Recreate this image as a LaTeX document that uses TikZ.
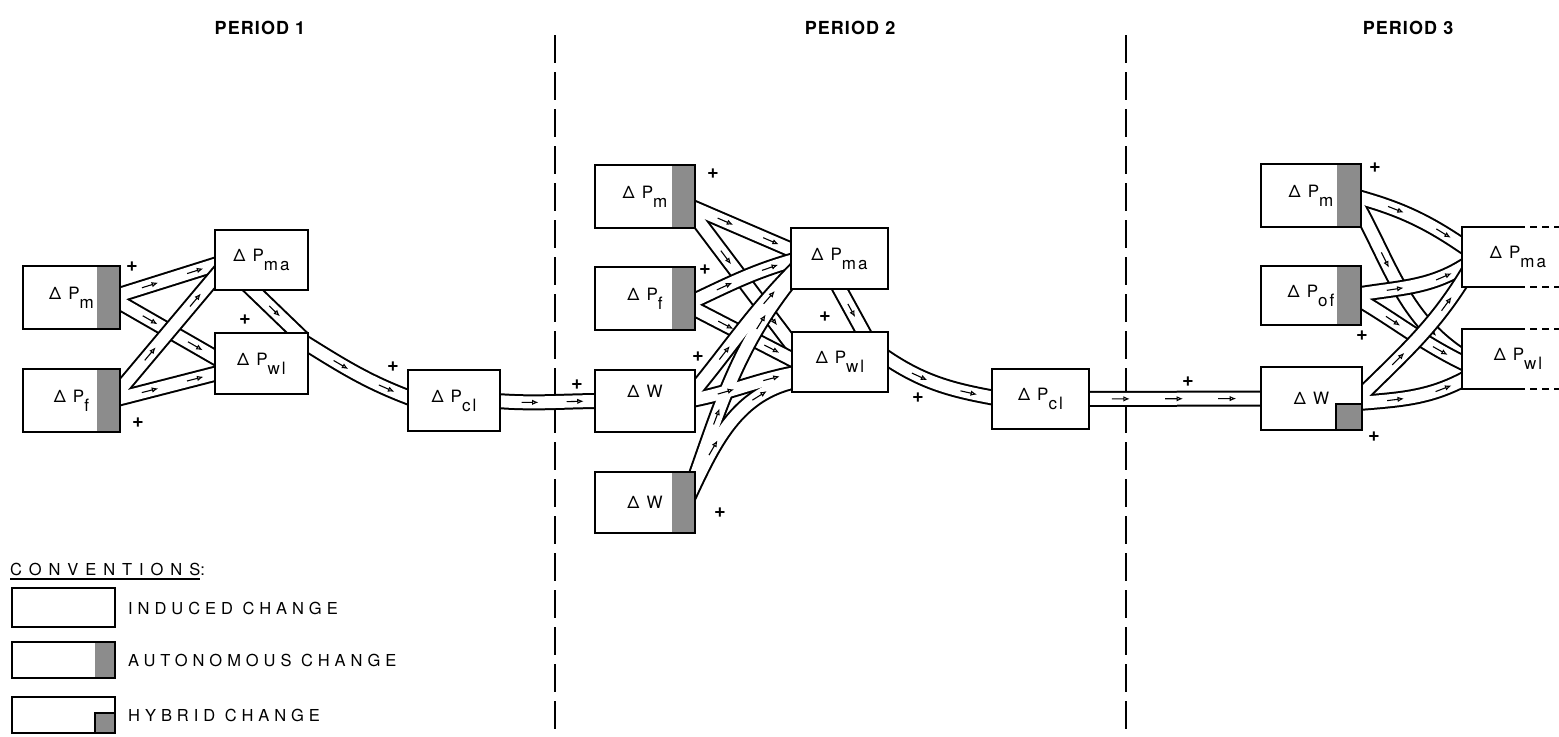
\documentclass[tikz,border=0pt]{standalone}
\usepackage{fontspec}
\setmainfont{TeX Gyre Heros}
\usetikzlibrary{arrows.meta,decorations.markings}
\pgfdeclarelayer{bg}
\pgfdeclarelayer{pipes}
\pgfsetlayers{bg,pipes,main}

\newcommand\DPlab[1]{Δ\hspace{7pt}P\raisebox{-9pt}{\addfontfeature{LetterSpace=12}#1}}
\newcommand\DWlab{Δ\hspace{7pt}W}
\newcommand\PipeOne[2]{\draw[pout]#2;\draw[pin]#2;\path[#1]#2;}
\newcommand\PipeTwo[4]{\draw[pout]#2;\draw[pout]#4;\draw[pin]#2;\draw[pin]#4;\path[#1]#2;\path[#3]#4;}
\newcommand\PipeFour[8]{\draw[pout]#2;\draw[pout]#4;\draw[pout]#6;\draw[pout]#8;%
  \draw[pin]#2;\draw[pin]#4;\draw[pin]#6;\draw[pin]#8;%
  \path[#1]#2;\path[#3]#4;\path[#5]#6;\path[#7]#8;}

\begin{document}
\begin{tikzpicture}[x=1pt,y=-1pt,
  every node/.style={font=\fontsize{17}{20}\selectfont},
  box/.style={draw, line width=2pt, fill=white, inner sep=0pt},
  bx/.style 2 args={box, minimum width=#1pt, minimum height=#2pt},
  stip/.style={fill=black!45},
  aut/.style={path picture={\fill[stip] ([xshift=-#1]path picture bounding box.north east) rectangle (path picture bounding box.south east);}},
  hyb/.style={path picture={\fill[stip] ([xshift=-#1]path picture bounding box.south east) rectangle ([yshift=#1]path picture bounding box.south east);
     \draw[line width=1.2pt] ([xshift=-#1]path picture bounding box.south east) |- ([yshift=#1]path picture bounding box.south east);}},
  boxline/.style={line width=2pt},
  pout/.style={line width=16pt, black},
  pin/.style={line width=12pt, white},
  flowtip/.style={line width=1.1pt, -{Latex[open,length=6.5pt,width=5.5pt]}},
  parr/.style={decorate, decoration={markings,
     mark=at position 0.35 with {\draw[flowtip] (-9,0) -- (8,0);},
     mark=at position 0.75 with {\draw[flowtip] (-9,0) -- (8,0);}}},
  parr1/.style={decorate, decoration={markings,
     mark=at position 0.5 with {\draw[flowtip] (-8,0) -- (7,0);}}},
  parr3/.style={decorate, decoration={markings,
     mark=at position 0.22 with {\draw[flowtip] (-10,0) -- (8,0);},
     mark=at position 0.5 with {\draw[flowtip] (-10,0) -- (8,0);},
     mark=at position 0.78 with {\draw[flowtip] (-10,0) -- (8,0);}}},
  plussign/.style={font=\fontsize{20}{20}\selectfont\bfseries, inner sep=0pt},
  period/.style={font=\fontsize{18}{20}\selectfont\bfseries\addfontfeature{LetterSpace=6}},
  divider/.style={line width=2.5pt, dash pattern=on 28pt off 9pt},
  convtext/.style={font=\fontsize{16.5}{20}\selectfont\addfontfeature{LetterSpace=30}, anchor=west, inner sep=0pt},
]
\begin{pgfonlayer}{bg}
\fill[white] (0,0) rectangle (1559,735);
\draw[divider] (555,35) -- (555,735);
\draw[divider] (1126,35) -- (1126,735);
\end{pgfonlayer}
\useasboundingbox (0,0) rectangle (1559,735);

% period titles
\node[period] (per1) at (260,28) {PERIOD 1};
\node[period] (per2) at (850,28) {PERIOD 2};
\node[period] (per3) at (1408,28) {PERIOD 3};

% period 1 boxes
\node[bx={97}{63}, aut=23pt] (m1) at (71.5,297.5) {\DPlab{m}\hspace{23pt}};
\node[bx={97}{63}, aut=23pt] (f1) at (71.5,400.5) {\DPlab{f}\hspace{23pt}};
\node[bx={93}{60}] (ma1) at (261.5,260) {\DPlab{ma}};
\node[bx={93}{61}] (wl1) at (261.5,363.5) {\DPlab{wl}};
\node[bx={92}{61}] (cl1) at (454,400.5) {\DPlab{cl}};

% period 2 boxes
\node[bx={100}{63}, aut=23pt] (m2) at (645,196.5) {\DPlab{m}\hspace{23pt}};
\node[bx={100}{63}, aut=23pt] (f2) at (645,298.5) {\DPlab{f}\hspace{23pt}};
\node[bx={100}{62}] (w2) at (645,401) {\raisebox{10pt}[\height][\depth]{\DWlab}\hspace{38pt}};
\node[bx={100}{61}, aut=23pt] (wx2) at (645,502.5) {\DWlab\hspace{30pt}};
\node[bx={97}{61}] (ma2) at (839.5,258.5) {\DPlab{ma}};
\node[bx={96}{60}] (wl2) at (840,362) {\DPlab{wl}};
\node[bx={97}{60}] (cl2) at (1040.5,399) {\DPlab{cl}};

% period 3 boxes
\node[bx={100}{63}, aut=24pt] (m3) at (1311,195.5) {\DPlab{m}\hspace{24pt}};
\node[bx={100}{59}, aut=24pt] (of3) at (1311,295.5) {\DPlab{of}\hspace{24pt}};
\node[bx={101}{63}, hyb=26pt] (w3) at (1311.5,398.5) {\DWlab\hspace{40pt}};
\node[fill=white, inner sep=0pt, minimum width=97pt, minimum height=60pt] (ma3) at (1510.5,257) {\hspace{15pt}\DPlab{ma}};
\node[fill=white, inner sep=0pt, minimum width=97pt, minimum height=60pt] (wl3) at (1510.5,359) {\hspace{15pt}\DPlab{wl}};
\draw[boxline] ([xshift=-41pt]ma3.north east) -- (ma3.north west) -- (ma3.south west) -- ([xshift=-41pt]ma3.south east);
\draw[boxline, dash pattern=on 7pt off 5pt] ([xshift=-41pt]ma3.north east) -- (ma3.north east);
\draw[boxline, dash pattern=on 7pt off 5pt] ([xshift=-41pt]ma3.south east) -- (ma3.south east);
\draw[boxline] ([xshift=-41pt]wl3.north east) -- (wl3.north west) -- (wl3.south west) -- ([xshift=-41pt]wl3.south east);
\draw[boxline, dash pattern=on 7pt off 5pt] ([xshift=-41pt]wl3.north east) -- (wl3.north east);
\draw[boxline, dash pattern=on 7pt off 5pt] ([xshift=-41pt]wl3.south east) -- (wl3.south east);

% pipes
\begin{pgfonlayer}{pipes}
% period 1
\PipeTwo{parr}{([xshift=-10pt]m1.east) -- ([xshift=10pt,yshift=-2pt]ma1.west)}
        {parr}{([xshift=-10pt]m1.east) -- ([xshift=10pt,yshift=1pt]wl1.west)}
\PipeTwo{parr}{([xshift=-10pt]f1.east) -- ([xshift=10pt,yshift=-6pt]ma1.west)}
        {parr}{([xshift=-10pt]f1.east) -- ([xshift=10pt,yshift=-8pt]wl1.west)}
\PipeTwo{parr1}{([xshift=-14pt,yshift=6pt]ma1.south) -- ([xshift=41pt,yshift=-6pt]wl1.north)}
        {parr}{([xshift=-6pt,yshift=22pt]wl1.east) to[out=-32,in=160] ([xshift=10pt]cl1.west)}
\PipeOne{parr}{([xshift=-10pt]cl1.east) to[out=-5,in=180] ([xshift=10pt]w2.west)}
% period 2
\PipeTwo{parr}{([xshift=-10pt,yshift=-8pt]m2.east) -- ([xshift=10pt,yshift=5pt]ma2.west)}
        {parr}{([xshift=-10pt,yshift=-8pt]m2.east) -- ([xshift=10pt,yshift=5pt]wl2.west)}
\PipeTwo{parr}{([xshift=-10pt,yshift=-6pt]f2.east) to[out=25,in=195] ([xshift=10pt]ma2.west)}
        {parr}{([xshift=-10pt,yshift=-6pt]f2.east) -- ([xshift=10pt,yshift=-2pt]wl2.west)}
\PipeFour{parr}{([xshift=-10pt]w2.east) to[out=50,in=225] ([xshift=10pt,yshift=-6pt]ma2.west)}
         {parr}{([xshift=-10pt]w2.east) to[out=10,in=190] ([xshift=10pt,yshift=-10pt]wl2.west)}
         {parr}{([xshift=-10pt]wx2.east) to[out=70,in=230] ([xshift=10pt,yshift=-10pt]ma2.west)}
         {parr}{([xshift=-10pt]wx2.east) to[out=65,in=190] ([xshift=10pt,yshift=-18pt]wl2.west)}
\PipeTwo{parr1}{([xshift=-2pt,yshift=5pt]ma2.south) -- ([xshift=26pt,yshift=-6pt]wl2.north)}
        {parr}{([xshift=-8pt,yshift=8pt]wl2.east) to[out=-35,in=170] ([xshift=10pt]cl2.west)}
\PipeOne{parr3}{([xshift=-10pt]cl2.east) -- ([xshift=10pt]w3.west)}
% period 3
\PipeTwo{parr}{([xshift=-10pt]m3.east) to[out=-15,in=145] ([xshift=10pt,yshift=5pt]ma3.west)}
        {parr}{([xshift=-10pt]m3.east) to[out=-60,in=150] ([xshift=10pt,yshift=-3pt]wl3.west)}
\PipeTwo{parr}{([xshift=-10pt]of3.east) to[out=10,in=215] ([xshift=10pt,yshift=-4pt]ma3.west)}
        {parr}{([xshift=-10pt]of3.east) to[out=-30,in=155] ([xshift=10pt,yshift=-8pt]wl3.west)}
\PipeTwo{parr}{([xshift=-10pt,yshift=-5pt]w3.east) to[out=45,in=240] ([xshift=10pt,yshift=-8pt]ma3.west)}
        {parr}{([xshift=-10pt,yshift=-5pt]w3.east) to[out=5,in=210] ([xshift=10pt,yshift=-16pt]wl3.west)}
\end{pgfonlayer}

% plus signs
\node[plussign] (pa1) at (132,267) {+};
\node[plussign] (pa2) at (138,423) {+};
\node[plussign] (pa3) at (245,320) {+};
\node[plussign] (pa4) at (393,367) {+};
\node[plussign] (pa5) at (577,385) {+};
\node[plussign] (pb1) at (713,174) {+};
\node[plussign] (pb2) at (705,270) {+};
\node[plussign] (pb3) at (698,357) {+};
\node[plussign] (pb4) at (720,513) {+};
\node[plussign] (pb5) at (825,317) {+};
\node[plussign] (pb6) at (918,398) {+};
\node[plussign] (pb7) at (1188,382) {+};
\node[plussign] (pc1) at (1375,168) {+};
\node[plussign] (pc2) at (1362,336) {+};
\node[plussign] (pc3) at (1374,437) {+};

% conventions
\node[convtext, anchor=base west, font=\fontsize{16.5}{20}\selectfont\addfontfeature{LetterSpace=42}] (convtitle) at (10,575) {\vtop{\hbox{CONVENTIONS}\kern3pt\hrule height 1.8pt}:};
\node[bx={103}{39}] (cv1) at (63.5,607.5) {};
\node[bx={103}{36}, aut=20pt] (cv2) at (63.5,660) {};
\node[bx={103}{36}, hyb=20pt] (cv3) at (63.5,715) {};
\node[convtext] (cvt1) at (128,608) {INDUCED CHANGE};
\node[convtext] (cvt2) at (128,660) {AUTONOMOUS CHANGE};
\node[convtext] (cvt3) at (128,715) {HYBRID CHANGE};
\end{tikzpicture}
\end{document}
